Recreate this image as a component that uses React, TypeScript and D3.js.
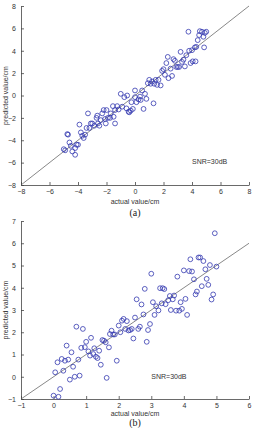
import React, { useEffect, useRef } from "react";
import * as d3 from "d3";

// (a) actual vs predicted positions
const actualA = [
  -5.0, -4.9, -4.75, -4.7, -4.6, -4.5, -4.4, -4.2, -4.2, -4.1, -4.0, -3.9, -3.8, -3.7, -3.6, -3.5,
  -3.3, -3.4, -3.2, -3.1, -3.0, -2.85, -2.7, -2.65, -2.6, -2.5, -2.4, -2.3, -2.2, -2.1, -2.05, -2.0,
  -1.9, -1.75, -1.7, -1.55, -1.5, -1.4, -1.4, -1.25, -1.15, -1.0, -0.9, -0.75, -0.6, -0.55, -0.45,
  -0.4, -0.3, -0.25, -0.15, 0.0, 0.0, 0.1, 0.25, 0.35, 0.4, 0.5, 0.6, 0.7, 0.8, 0.9, 1.0, 1.1, 1.2,
  1.3, 1.35, 1.45, 1.55, 1.65, 1.8, 1.9, 2.0, 2.1, 2.2, 2.3, 2.35, 2.5, 2.6, 2.7, 2.8, 2.9, 3.0, 3.1,
  3.2, 3.3, 3.4, 3.5, 3.6, 3.75, 3.8, 3.9, 4.0, 4.05, 4.2, 4.25, 4.3, 4.4, 4.5, 4.55, 4.7, 4.8, 4.85,
  4.9, 5.0,
];
const predictedA = [
  -4.8, -4.9, -3.45, -3.5, -4.2, -4.5, -5.0, -4.7, -5.3, -4.4, -4.4, -2.6, -3.3, -3.6, -3.8, -3.5,
  -1.6, -2.9, -2.9, -2.5, -2.5, -2.7, -2.0, -1.8, -2.5, -2.7, -2.2, -1.6, -1.3, -2.1, -2.5, -1.3,
  -2.0, -2.0, -1.6, -0.95, -1.9, -2.5, -1.3, -0.95, -1.25, 0.15, -1.0, -0.15, -1.15, 0.0, -1.45,
  -1.5, -1.35, -0.6, -1.2, 0.45, -0.15, -0.6, -0.35, -0.1, -0.4, 0.45, -1.2, 0.15, -0.3, 1.1, 1.4,
  1.05, 1.25, -0.7, 1.05, 1.4, 0.95, 1.4, 0.9, 2.2, 2.35, 1.85, 2.9, 3.45, 1.55, 2.4, 1.75, 3.25,
  3.1, 2.55, 2.55, 2.55, 3.9, 3.0, 3.2, 2.6, 3.6, 5.7, 4.0, 2.9, 4.05, 3.05, 4.3, 3.05, 4.35, 4.95,
  5.4, 5.75, 5.7, 5.25, 4.3, 5.6, 5.7,
];

// (b) actual vs predicted positions
const actualB = [
  0.0, 0.15, 0.2, 0.05, 0.12, 0.25, 0.3, 0.35, 0.4, 0.45, 0.5, 0.55, 0.6, 0.65, 0.7, 0.76, 0.8, 0.85,
  0.9, 0.96, 1.0, 1.07, 1.12, 1.15, 1.22, 1.25, 1.3, 1.35, 1.4, 1.45, 1.5, 1.55, 1.6, 1.63, 1.7,
  1.73, 1.78, 1.83, 1.88, 1.94, 2.0, 2.05, 2.1, 2.15, 2.2, 2.25, 2.3, 2.35, 2.4, 2.45, 2.5, 2.55,
  2.6, 2.65, 2.7, 2.76, 2.8, 2.86, 2.9, 2.96, 3.0, 3.05, 3.1, 3.15, 3.22, 3.27, 3.32, 3.35, 3.4,
  3.44, 3.52, 3.57, 3.6, 3.66, 3.7, 3.76, 3.8, 3.86, 3.9, 3.94, 4.0, 4.05, 4.1, 4.16, 4.2, 4.25,
  4.31, 4.36, 4.4, 4.45, 4.5, 4.55, 4.6, 4.66, 4.7, 4.75, 4.8, 4.85, 4.9, 4.95, 5.0,
];
const predictedB = [
  -0.85, -0.9, -0.55, 0.2, 0.65, 0.8, 0.27, 0.72, 1.4, 0.77, -0.13, 1.1, 0.45, 0.0, 2.25, 0.77,
  0.05, 1.3, 2.15, 1.33, 1.57, 1.14, 0.95, 1.75, 1.02, 1.28, 0.9, 0.84, 1.17, 0.54, 1.65, 1.62,
  1.55, -0.05, 1.32, 1.92, 2.07, 1.9, 1.9, 0.72, 2.3, 2.0, 2.52, 2.6, 2.15, 2.5, 2.08, 2.1, 2.15,
  1.72, 2.66, 3.48, 2.15, 2.25, 3.25, 2.8, 3.95, 1.57, 2.1, 2.37, 4.63, 3.35, 2.78, 3.17, 2.98,
  3.98, 3.3, 3.98, 3.94, 3.26, 3.44, 3.63, 3.0, 3.48, 3.65, 2.97, 4.5, 2.97, 3.35, 3.05, 4.78, 3.5,
  2.78, 4.75, 5.28, 4.73, 4.38, 3.7, 3.83, 5.36, 5.36, 4.07, 5.2, 4.83, 4.4, 4.13, 5.02, 3.47, 3.7,
  6.45, 4.95,
];

const ticksA = [-8, -6, -4, -2, 0, 2, 4, 6, 8];
const ticksBx = [-1, 0, 1, 2, 3, 4, 5, 6];
const ticksBy = [-1, 0, 1, 2, 3, 4, 5, 6, 7];

const W = 258;
const H = 428;
const sans = "'Liberation Sans', Arial, sans-serif";

function drawPanel(
  svg: d3.Selection<SVGSVGElement, unknown, null, undefined>,
  opts: {
    top: number;
    bottom: number;
    domain: [number, number];
    yDomain: [number, number];
    xTicks: number[];
    yTicks: number[];
    xs: number[];
    ys: number[];
    snr: [number, number];
    caption: string;
    captionY: number;
    labelGap: number;
  }
) {
  const x = d3.scaleLinear().domain(opts.domain).range([21, 249]);
  const y = d3.scaleLinear().domain(opts.yDomain).range([opts.bottom, opts.top]);
  const g = svg.append("g");
  const fmt = d3.format("d");

  const xAxis = d3.axisBottom(x).tickValues(opts.xTicks).tickFormat(fmt).tickSize(-3).tickPadding(5).tickSizeOuter(0);
  const yAxis = d3.axisLeft(y).tickValues(opts.yTicks).tickFormat(fmt).tickSize(-3).tickPadding(5).tickSizeOuter(0);

  const gx = g.append("g").attr("transform", `translate(0,${opts.bottom})`).call(xAxis);
  const gy = g.append("g").attr("transform", "translate(21,0)").call(yAxis);
  [gx, gy].forEach((a) => {
    a.selectAll("path, line").attr("stroke", "#444").attr("stroke-width", 0.8);
    a.selectAll("text").attr("fill", "#333").style("font-family", sans).style("font-size", "7px");
  });
  gx.selectAll("text").attr("dy", "0.6em");

  // y = x reference line
  const lo = Math.max(opts.domain[0], opts.yDomain[0]);
  const hi = Math.min(opts.domain[1], opts.yDomain[1]);
  g.append("line")
    .attr("x1", x(lo))
    .attr("y1", y(lo))
    .attr("x2", x(hi))
    .attr("y2", y(hi))
    .attr("stroke", "#555")
    .attr("stroke-width", 0.7);

  g.append("g")
    .selectAll("circle")
    .data(opts.xs.map((v, i) => [v, opts.ys[i]]))
    .enter()
    .append("circle")
    .attr("cx", (d) => x(d[0]))
    .attr("cy", (d) => y(d[1]))
    .attr("r", 2.4)
    .attr("fill", "none")
    .attr("stroke", "#3438b0")
    .attr("stroke-width", 0.8);

  g.append("text")
    .attr("x", x(opts.snr[0]))
    .attr("y", y(opts.snr[1]))
    .attr("fill", "#333")
    .style("font-family", sans)
    .style("font-size", "7px")
    .text("SNR=30dB");

  g.append("text")
    .attr("x", 135)
    .attr("y", opts.bottom + opts.labelGap)
    .attr("text-anchor", "middle")
    .attr("fill", "#333")
    .style("font-family", sans)
    .style("font-size", "7px")
    .text("actual value/cm");

  const cy = (opts.top + opts.bottom) / 2;
  g.append("text")
    .attr("transform", `translate(8,${cy}) rotate(-90)`)
    .attr("text-anchor", "middle")
    .attr("fill", "#333")
    .style("font-family", sans)
    .style("font-size", "7px")
    .text("predicted value/cm");

  g.append("text")
    .attr("x", 135)
    .attr("y", opts.captionY)
    .attr("text-anchor", "middle")
    .attr("fill", "#222")
    .style("font-family", "'Liberation Serif', 'Times New Roman', serif")
    .style("font-size", "10px")
    .text(opts.caption);
}

export default function App() {
  const ref = useRef<SVGSVGElement>(null);

  useEffect(() => {
    document.body.style.margin = "0";
    const svg = d3.select(ref.current as SVGSVGElement);
    svg.selectAll("*").remove();
    drawPanel(svg, {
      top: 6,
      bottom: 185,
      domain: [-8, 8],
      yDomain: [-8, 8],
      xTicks: ticksA,
      yTicks: ticksA,
      xs: actualA,
      ys: predictedA,
      snr: [4.0, -6.1],
      caption: "(a)",
      captionY: 216,
      labelGap: 18.5,
    });
    drawPanel(svg, {
      top: 221,
      bottom: 399,
      domain: [-1, 6],
      yDomain: [-1, 7],
      xTicks: ticksBx,
      yTicks: ticksBy,
      xs: actualB,
      ys: predictedB,
      snr: [3.0, -0.1],
      caption: "(b)",
      captionY: 426,
      labelGap: 16.5,
    });
  }, []);

  return <svg ref={ref} width={W} height={H} style={{ display: "block", background: "#fff" }} />;
}
